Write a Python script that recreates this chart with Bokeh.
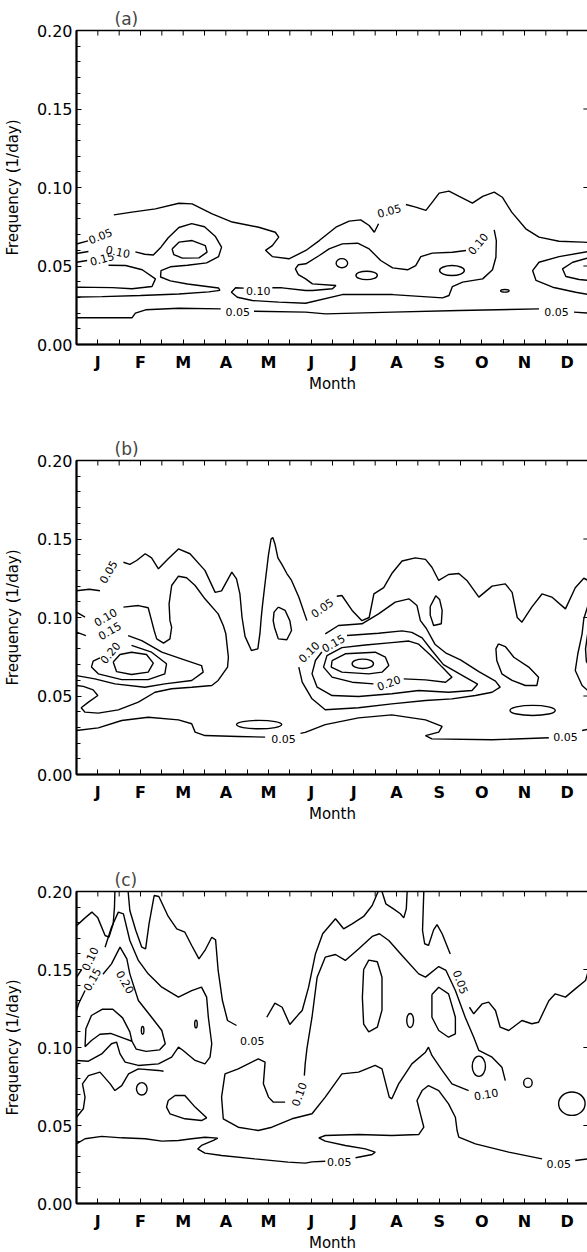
import math
from bokeh.plotting import figure
from bokeh.layouts import column
from bokeh.models import FixedTicker, Range1d, LinearAxis, ColumnDataSource
from bokeh.embed import file_html
from bokeh.resources import INLINE
from bokeh.core.properties import value

FONT = "DejaVu Sans"

MONTH_LABELS = ["J", "F", "M", "A", "M", "J", "J", "A", "S", "O", "N", "D"]
MONTH_CENTERS = [0.5, 1.5, 2.5, 3.5, 4.5, 5.5, 6.5, 7.5, 8.5, 9.5, 10.5, 11.5]
MONTH_EDGES = [0, 1, 2, 3, 4, 5, 6, 7, 8, 9, 10, 11, 12]
FREQ_TICKS = [0.0, 0.05, 0.10, 0.15, 0.20]
FREQ_LABELS = ["0.00", "0.05", "0.10", "0.15", "0.20"]
FREQ_MINOR = [0.01, 0.02, 0.03, 0.04, 0.06, 0.07, 0.08, 0.09, 0.11, 0.12, 0.13, 0.14,
              0.16, 0.17, 0.18, 0.19]

# ---------------- panel (a): contour lines (month, frequency) ----------------
A_TOP_1 = [(0.00, 0.064), (0.27, 0.066)]
A_TOP_2 = [(0.875, 0.0826), (1.30, 0.0843), (1.85, 0.0864), (2.40, 0.0900), (2.71, 0.0896),
           (3.18, 0.0832), (3.65, 0.0780), (4.27, 0.0747), (4.66, 0.0715), (4.74, 0.0684),
           (4.59, 0.0630), (4.43, 0.0600), (4.59, 0.0560), (4.98, 0.0546), (5.06, 0.0556),
           (5.375, 0.0599), (5.69, 0.0662), (6.08, 0.0747), (6.39, 0.0786), (6.66, 0.0794),
           (6.86, 0.0758), (6.98, 0.0715), (7.08, 0.0769)]
A_TOP_3 = [(7.72, 0.0892), (7.95, 0.0875), (8.19, 0.0854), (8.34, 0.0907), (8.50, 0.0964),
           (8.73, 0.0977), (8.97, 0.0943), (9.28, 0.0900), (9.52, 0.0943), (9.79, 0.0970),
           (9.98, 0.0938), (10.20, 0.0843), (10.53, 0.0737), (10.84, 0.0684), (11.31, 0.0658),
           (11.86, 0.0652), (12.0, 0.0650)]
A_BOT_1 = [(0.0, 0.0170), (1.30, 0.0170), (1.38, 0.0200), (1.62, 0.0221), (2.40, 0.0231),
           (3.38, 0.0227)]
A_BOT_2 = [(4.16, 0.0212), (5.37, 0.0206), (5.84, 0.0195), (7.40, 0.0206), (8.97, 0.0217),
           (10.84, 0.0227)]
A_BOT_3 = [(11.66, 0.0206), (12.0, 0.0200)]
A_010_STUB = [(0.0, 0.0580), (0.28, 0.0592)]
A_010_LEFT = [(1.38, 0.0590), (1.60, 0.0575), (1.80, 0.0570), (1.98, 0.0620), (2.15, 0.0680),
              (2.40, 0.0745), (2.70, 0.0770), (3.00, 0.0750), (3.25, 0.0690), (3.40, 0.0620),
              (3.33, 0.0560), (3.05, 0.0520), (2.60, 0.0505), (2.20, 0.0495), (1.98, 0.0470),
              (1.97, 0.0430), (2.20, 0.0405), (2.60, 0.0385), (3.10, 0.0368), (3.33, 0.0360),
              (3.36, 0.0345), (3.10, 0.0335), (2.40, 0.0322), (1.50, 0.0312), (0.60, 0.0305),
              (0.0, 0.0303)]
A_015_STUB = [(0.0, 0.0524), (0.25, 0.0535)]
A_015_LEFT = [(0.75, 0.0505), (1.15, 0.0503), (1.54, 0.0476), (1.85, 0.0418), (1.77, 0.0369),
              (1.30, 0.0355), (0.84, 0.0362), (0.40, 0.0364), (0.0, 0.0365)]
A_015_MAR = [(2.24, 0.0609), (2.40, 0.0652), (2.71, 0.0662), (3.02, 0.0630), (3.06, 0.0588),
             (2.87, 0.0552), (2.48, 0.0550), (2.28, 0.0573), (2.24, 0.0609)]
A_010_MID_1 = [(4.59, 0.0361), (4.82, 0.0361), (5.37, 0.0344), (5.53, 0.0344), (6.00, 0.0355),
               (6.08, 0.0376), (5.53, 0.0386), (5.37, 0.0418), (5.20, 0.0445), (5.13, 0.0482),
               (5.20, 0.0508), (5.375, 0.0514), (5.69, 0.0567), (5.92, 0.0609), (6.23, 0.0641),
               (6.59, 0.0645), (6.86, 0.0609), (7.13, 0.0535), (7.41, 0.0488), (7.76, 0.0476),
               (7.95, 0.0503), (8.07, 0.0560), (8.34, 0.0582), (8.81, 0.0588), (9.13, 0.0599)]
A_010_MID_2 = [(9.79, 0.0730), (9.84, 0.0662), (9.83, 0.0556), (9.75, 0.0476), (9.52, 0.0418),
               (9.05, 0.0397), (8.81, 0.0369), (8.73, 0.0312), (8.58, 0.0297), (7.41, 0.0318),
               (6.23, 0.0318), (5.37, 0.0263), (4.74, 0.0270), (4.12, 0.0280), (3.77, 0.0301),
               (3.63, 0.0333), (3.73, 0.0361), (3.92, 0.0359)]
A_DEC_010 = [(12.0, 0.0592), (11.31, 0.0560), (10.84, 0.0524), (10.69, 0.0471), (10.77, 0.0408),
             (11.16, 0.0365), (11.70, 0.0333), (12.0, 0.0318)]
A_DEC_015 = [(12.0, 0.0552), (11.63, 0.0524), (11.39, 0.0482), (11.47, 0.0433), (11.78, 0.0414),
             (12.0, 0.0408)]
A_LOOPS = [(6.22, 0.0518, 0.27, 0.0058), (6.80, 0.0440, 0.50, 0.0054),
           (8.80, 0.0471, 0.58, 0.0064), (10.04, 0.0342, 0.20, 0.0017)]
A_LABELS = [("0.05", 0.56, 0.0690, 22), ("0.10", 0.97, 0.0590, -12), ("0.15", 0.60, 0.0545, 15),
            ("0.05", 7.33, 0.0850, 15), ("0.10", 9.41, 0.0641, 50), ("0.10", 4.26, 0.0340, 0),
            ("0.05", 3.78, 0.0205, 0), ("0.05", 11.25, 0.0205, 0)]
A_LINES = [A_TOP_1, A_TOP_2, A_TOP_3, A_BOT_1, A_BOT_2, A_BOT_3, A_010_STUB, A_010_LEFT,
           A_015_STUB, A_015_LEFT, A_015_MAR, A_010_MID_1, A_010_MID_2, A_DEC_010, A_DEC_015]

# ---------------- panel (b) ----------------
B_TOP_1 = [(0.0, 0.117), (0.30, 0.118), (0.55, 0.117)]
B_TOP_2 = [(1.10, 0.1352), (1.25, 0.1338), (1.41, 0.1363), (1.61, 0.1406), (1.76, 0.1380),
           (1.92, 0.1310), (2.15, 0.1374), (2.39, 0.1437), (2.66, 0.1406), (3.01, 0.1300),
           (3.25, 0.1160), (3.40, 0.1170), (3.64, 0.1289), (3.75, 0.1246), (3.83, 0.1150),
           (3.88, 0.1000), (3.95, 0.0880), (4.10, 0.0790), (4.25, 0.0800), (4.30, 0.0900),
           (4.33, 0.1000), (4.36, 0.1080), (4.42, 0.1220), (4.50, 0.1400), (4.56, 0.1500),
           (4.60, 0.1510), (4.65, 0.1470), (4.72, 0.1380), (4.81, 0.1340), (4.93, 0.1280),
           (5.04, 0.1236), (5.21, 0.1130), (5.40, 0.0980)]
B_TOP_3 = [(6.10, 0.1135), (6.22, 0.1140), (6.46, 0.1045), (6.69, 0.0980), (6.86, 0.1000),
           (6.97, 0.1150), (7.20, 0.1190), (7.39, 0.1280), (7.63, 0.1360), (7.94, 0.1380),
           (8.18, 0.1370), (8.33, 0.1320), (8.49, 0.1236), (8.72, 0.1274), (8.96, 0.1280),
           (9.15, 0.1236), (9.43, 0.1130), (9.74, 0.1200), (10.05, 0.1214), (10.21, 0.1160),
           (10.33, 0.1000), (10.44, 0.0970), (10.67, 0.1066), (10.91, 0.1150), (11.14, 0.1130),
           (11.46, 0.1055), (11.69, 0.1190), (11.89, 0.1250), (12.0, 0.1235)]
B_010_STUB = [(0.0, 0.1034), (0.20, 0.1002)]
B_010_LEFT = [(1.10, 0.1066), (1.45, 0.1076), (1.68, 0.1062), (1.76, 0.0980), (1.82, 0.0917),
              (1.88, 0.0864), (2.04, 0.0837), (2.19, 0.0864), (2.23, 0.0938), (2.19, 0.0980),
              (2.17, 0.1087), (2.23, 0.1204), (2.39, 0.1263), (2.58, 0.1253), (2.78, 0.1204),
              (3.01, 0.1119), (3.32, 0.1023), (3.44, 0.0949), (3.50, 0.0896), (3.56, 0.0747),
              (3.54, 0.0684), (3.32, 0.0599), (3.17, 0.0567), (2.70, 0.0556), (2.23, 0.0546),
              (1.84, 0.0524), (1.45, 0.0461), (0.98, 0.0412), (0.51, 0.0391), (0.20, 0.0397),
              (0.11, 0.0425), (0.28, 0.0461), (0.50, 0.0503), (0.39, 0.0539), (0.16, 0.0561),
              (0.0, 0.0567)]
B_015_STUB = [(0.0, 0.0907), (0.22, 0.0885)]
B_015_LEFT = [(1.21, 0.0885), (1.53, 0.0853), (2.00, 0.0779), (2.46, 0.0737), (2.93, 0.0694),
              (2.97, 0.0652), (2.70, 0.0599), (2.07, 0.0577), (1.60, 0.0556), (0.90, 0.0577),
              (0.43, 0.0609), (0.0, 0.0630)]
B_020_LEFT = [(1.29, 0.0822), (1.76, 0.0779), (2.11, 0.0705), (2.07, 0.0641), (1.68, 0.0604),
              (1.06, 0.0604), (0.51, 0.0641), (0.35, 0.0684), (0.39, 0.0722), (0.55, 0.0743)]
B_025_LEFT = [(0.86, 0.0716), (1.02, 0.0764), (1.29, 0.0779), (1.64, 0.0764), (1.80, 0.0709),
              (1.68, 0.0652), (1.29, 0.0637), (0.94, 0.0655), (0.86, 0.0716)]
B_MAY = [(4.73, 0.1066), (4.89, 0.1045), (5.00, 0.0980), (5.04, 0.0917), (4.93, 0.0858),
         (4.73, 0.0864), (4.64, 0.0938), (4.61, 0.0980), (4.63, 0.1034), (4.73, 0.1066)]
B_AUG = [(8.29, 0.1070), (8.42, 0.1138), (8.51, 0.1115), (8.57, 0.1045), (8.55, 0.0960),
         (8.37, 0.0949), (8.29, 0.1015), (8.29, 0.1070)]
B_010_JUL = [(5.83, 0.0896), (6.14, 0.0949), (6.69, 0.0960), (7.08, 0.1023), (7.47, 0.1098),
             (7.79, 0.1119), (7.98, 0.1076), (8.06, 0.0980), (8.20, 0.0930), (8.40, 0.0830),
             (8.65, 0.0775), (9.00, 0.0730), (9.43, 0.0655), (9.82, 0.0595), (9.93, 0.0556),
             (9.74, 0.0524), (9.35, 0.0503), (8.80, 0.0482), (8.18, 0.0471), (7.39, 0.0450),
             (6.61, 0.0425), (5.83, 0.0412), (5.52, 0.0482), (5.29, 0.0588), (5.21, 0.0684)]
B_015_JUL = [(6.34, 0.0885), (7.08, 0.0900), (7.63, 0.0915), (7.86, 0.0905), (8.10, 0.0870),
             (8.33, 0.0790), (8.60, 0.0700), (9.05, 0.0630), (9.40, 0.0575), (9.27, 0.0535),
             (8.72, 0.0524), (8.02, 0.0535), (7.39, 0.0514), (6.61, 0.0497), (5.99, 0.0503),
             (5.64, 0.0556), (5.52, 0.0641), (5.60, 0.0726), (5.75, 0.0780)]
B_020_JUL = [(7.67, 0.0609), (8.18, 0.0603), (8.65, 0.0588), (8.80, 0.0620), (8.57, 0.0684),
             (8.30, 0.0760), (8.02, 0.0830), (7.79, 0.0850), (7.39, 0.0840), (6.77, 0.0825),
             (6.22, 0.0808), (5.87, 0.0757), (5.79, 0.0684), (5.99, 0.0620), (6.46, 0.0588),
             (6.96, 0.0577)]
B_025_JUL = [(5.99, 0.0726), (6.30, 0.0769), (7.00, 0.0779), (7.24, 0.0747), (7.32, 0.0694),
             (7.16, 0.0652), (6.85, 0.0641), (6.22, 0.0652), (5.97, 0.0684), (5.99, 0.0726)]
B_SEP = [(9.89, 0.0832), (10.05, 0.0815), (10.25, 0.0747), (10.60, 0.0684), (10.83, 0.0620),
         (10.79, 0.0567), (10.52, 0.0567), (10.21, 0.0599), (9.97, 0.0641), (9.85, 0.0726),
         (9.83, 0.0800), (9.89, 0.0832)]
B_DEC_010 = [(12.0, 0.1087), (11.89, 0.0992), (11.85, 0.0896), (11.75, 0.0769), (11.69, 0.0662),
             (11.85, 0.0567), (12.0, 0.0530)]
B_DEC_015 = [(12.0, 0.0934), (11.93, 0.0800), (11.95, 0.0720), (12.0, 0.0700)]
B_BOT_1 = [(0.0, 0.0280), (0.51, 0.0297), (1.06, 0.0344), (1.68, 0.0365), (2.39, 0.0348),
           (2.70, 0.0323), (2.78, 0.0270), (3.01, 0.0248), (3.79, 0.0242), (4.42, 0.0238)]
B_BOT_2 = [(5.25, 0.0262), (5.36, 0.0268), (5.83, 0.0318), (6.61, 0.0361), (7.39, 0.0380),
           (8.18, 0.0348), (8.57, 0.0306), (8.49, 0.0270), (8.18, 0.0248), (8.33, 0.0227),
           (9.74, 0.0221), (11.07, 0.0234)]
B_BOT_3 = [(11.85, 0.0280), (12.0, 0.0289)]
B_LOOPS = [(6.71, 0.0705, 0.50, 0.0060), (10.69, 0.0408, 1.06, 0.0064),
           (4.28, 0.0318, 1.06, 0.0054)]
B_LABELS = [("0.05", 0.75, 0.1290, 60), ("0.05", 5.76, 0.1060, 35), ("0.10", 0.68, 0.1000, 30),
            ("0.15", 0.78, 0.0915, 30), ("0.20", 0.79, 0.0775, 50), ("0.10", 5.45, 0.0780, 45),
            ("0.15", 6.02, 0.0835, 30), ("0.20", 7.32, 0.0582, 20), ("0.05", 4.85, 0.0227, 0),
            ("0.05", 11.46, 0.0240, 0)]
B_LINES = [B_TOP_1, B_TOP_2, B_TOP_3, B_010_STUB, B_010_LEFT, B_015_STUB, B_015_LEFT, B_020_LEFT,
           B_025_LEFT, B_MAY, B_AUG, B_010_JUL, B_015_JUL, B_020_JUL, B_025_JUL, B_SEP,
           B_DEC_010, B_DEC_015, B_BOT_1, B_BOT_2, B_BOT_3]

# ---------------- panel (c) ----------------
C_005_A = [(0.0, 0.1780), (0.20, 0.1831), (0.36, 0.1868), (0.50, 0.1831), (0.67, 0.1718),
           (0.76, 0.1707), (0.86, 0.1793), (0.89, 0.1900), (0.90, 0.2000)]
C_005_B = [(1.21, 0.2000), (1.25, 0.1878), (1.39, 0.1750), (1.53, 0.1643), (1.62, 0.1632),
           (1.70, 0.1793), (1.82, 0.1974), (1.93, 0.1968), (2.15, 0.1840), (2.35, 0.1761),
           (2.54, 0.1739), (2.70, 0.1654), (2.87, 0.1568), (3.01, 0.1622), (3.17, 0.1707),
           (3.26, 0.1690), (3.32, 0.1494), (3.42, 0.1301), (3.54, 0.1173), (3.75, 0.1141)]
C_005_C = [(4.46, 0.1194), (4.65, 0.1284), (4.82, 0.1258), (5.00, 0.1147), (5.20, 0.1211),
           (5.29, 0.1237), (5.44, 0.1387), (5.60, 0.1600), (5.77, 0.1729), (6.07, 0.1825),
           (6.26, 0.1761), (6.46, 0.1793), (6.73, 0.1840), (6.93, 0.1910), (7.07, 0.2000)]
C_005_D = [(7.16, 0.2000), (7.25, 0.1921), (7.43, 0.1889), (7.59, 0.1857), (7.67, 0.1831),
           (7.73, 0.1889), (7.75, 0.2000)]
C_005_E = [(8.14, 0.2000), (8.11, 0.1750), (8.16, 0.1665), (8.25, 0.1654), (8.37, 0.1754),
           (8.45, 0.1788), (8.57, 0.1729), (8.76, 0.1600)]
C_005_F = [(9.21, 0.1258), (9.31, 0.1216), (9.51, 0.1280), (9.66, 0.1291), (9.82, 0.1237),
           (9.93, 0.1130), (10.13, 0.1109), (10.44, 0.1173), (10.67, 0.1152), (10.83, 0.1162),
           (11.07, 0.1300), (11.22, 0.1344), (11.46, 0.1323), (11.69, 0.1376), (11.93, 0.1429),
           (12.0, 0.1494)]
C_BOT_1 = [(0.0, 0.0382), (0.20, 0.0415), (0.59, 0.0430), (1.06, 0.0421), (1.61, 0.0415),
           (2.00, 0.0400), (2.39, 0.0404), (2.70, 0.0415), (3.01, 0.0425), (3.31, 0.0419),
           (3.21, 0.0404), (2.93, 0.0372), (2.84, 0.0350), (3.01, 0.0323), (3.40, 0.0308),
           (4.18, 0.0286), (4.96, 0.0265), (5.36, 0.0259), (5.52, 0.0267), (5.83, 0.0271)]
C_BOT_2 = [(6.54, 0.0293), (6.93, 0.0314), (7.00, 0.0329), (6.77, 0.0350), (6.30, 0.0372),
           (5.83, 0.0400), (5.68, 0.0421), (5.83, 0.0436), (6.61, 0.0442), (7.39, 0.0436),
           (8.02, 0.0442), (8.14, 0.0489), (8.06, 0.0575), (7.98, 0.0660), (8.10, 0.0724),
           (8.25, 0.0756), (8.49, 0.0724), (8.72, 0.0639), (8.88, 0.0553), (8.92, 0.0468),
           (8.96, 0.0425), (9.35, 0.0382), (10.13, 0.0329), (10.91, 0.0286)]
C_BOT_3 = [(11.69, 0.0276), (12.0, 0.0286)]
C_010_STUB = [(0.0, 0.1450), (0.12, 0.1500)]
C_010_JAN = [(0.67, 0.1643), (0.82, 0.1771), (0.98, 0.1868), (1.10, 0.1857), (1.25, 0.1686),
             (1.45, 0.1558), (1.68, 0.1472), (2.00, 0.1387), (2.39, 0.1323), (2.70, 0.1365),
             (2.93, 0.1387), (3.05, 0.1323), (3.09, 0.1194), (3.17, 0.1024), (3.13, 0.0938),
             (3.01, 0.0895), (2.78, 0.0917), (2.50, 0.0981), (2.39, 0.1002), (2.23, 0.0938),
             (1.92, 0.0895), (1.45, 0.0885), (1.14, 0.0906), (1.02, 0.0959), (0.94, 0.1034),
             (0.82, 0.1024), (0.59, 0.0959), (0.28, 0.0912), (0.0, 0.0917)]
C_015_STUB = [(0.0, 0.1237), (0.05, 0.1280), (0.20, 0.1365)]
C_015_JAN = [(0.62, 0.1470), (0.82, 0.1536), (1.02, 0.1643), (1.18, 0.1568), (1.25, 0.1472),
             (1.45, 0.1301), (1.76, 0.1194), (2.00, 0.1109), (2.08, 0.1024), (1.95, 0.0985),
             (1.63, 0.0975), (1.40, 0.0990), (1.30, 0.1040)]
C_020_JAN = [(0.20, 0.1005), (0.22, 0.1120), (0.35, 0.1205), (0.60, 0.1245), (0.85, 0.1245),
             (1.08, 0.1190), (1.25, 0.1100), (1.30, 0.1040), (1.10, 0.1060), (0.80, 0.1090),
             (0.55, 0.1085), (0.35, 0.1045), (0.20, 0.1005)]
C_010_LOW = [(0.0, 0.0553), (0.16, 0.0607), (0.20, 0.0682), (0.14, 0.0767), (0.28, 0.0820),
             (0.55, 0.0842), (0.79, 0.0767), (0.90, 0.0724), (1.06, 0.0756), (1.22, 0.0831),
             (1.45, 0.0863), (1.92, 0.0853), (2.04, 0.0848)]
C_MAR = [(2.15, 0.0660), (2.31, 0.0692), (2.54, 0.0692), (2.78, 0.0618), (3.05, 0.0549),
         (2.93, 0.0532), (2.54, 0.0543), (2.19, 0.0575), (2.11, 0.0618), (2.15, 0.0660)]
C_010_MAIN_1 = [(10.05, 0.0788), (9.97, 0.0874), (9.74, 0.0938), (9.43, 0.0981), (9.31, 0.1066),
                (9.11, 0.1194), (8.88, 0.1365), (8.66, 0.1494), (8.49, 0.1519), (8.18, 0.1451),
                (8.02, 0.1472), (7.63, 0.1590), (7.32, 0.1686), (7.10, 0.1729), (6.93, 0.1712),
                (6.61, 0.1632), (6.30, 0.1558), (6.07, 0.1596), (5.83, 0.1579), (5.64, 0.1451),
                (5.52, 0.1194), (5.44, 0.1060), (5.40, 0.0991), (5.36, 0.0895), (5.34, 0.0820)]
C_010_MAIN_2 = [(4.89, 0.0650), (4.61, 0.0650), (4.50, 0.0682), (4.38, 0.0767), (4.42, 0.0906),
                (4.26, 0.0927), (3.79, 0.0863), (3.48, 0.0831), (3.40, 0.0682), (3.44, 0.0543),
                (3.79, 0.0489), (4.26, 0.0468), (4.58, 0.0489), (5.05, 0.0543), (5.52, 0.0575),
                (5.83, 0.0682), (6.22, 0.0831), (6.61, 0.0842), (7.00, 0.0885), (7.16, 0.0863),
                (7.33, 0.0682), (7.39, 0.0671), (7.55, 0.0767), (7.86, 0.0895), (8.18, 0.0970),
                (8.25, 0.1002), (8.33, 0.0949), (8.57, 0.0853), (8.80, 0.0767), (9.19, 0.0724)]
C_JUL_L2 = [(6.73, 0.1500), (6.85, 0.1560), (7.05, 0.1550), (7.16, 0.1450), (7.16, 0.1240),
            (7.05, 0.1130), (6.85, 0.1100), (6.73, 0.1150), (6.70, 0.1320), (6.73, 0.1500)]
C_AUG_L5 = [(8.33, 0.1340), (8.49, 0.1386), (8.72, 0.1344), (8.88, 0.1194), (8.88, 0.1088),
            (8.72, 0.1066), (8.49, 0.1109), (8.33, 0.1194), (8.33, 0.1340)]
C_LOOPS = [(7.82, 0.1173, 0.16, 0.0090), (9.43, 0.0880, 0.31, 0.0130),
           (10.58, 0.0774, 0.20, 0.0060), (11.61, 0.0640, 0.62, 0.0150),
           (1.55, 0.1110, 0.06, 0.0050), (2.80, 0.1150, 0.06, 0.0050),
           (1.53, 0.0735, 0.25, 0.0080)]
C_LABELS = [("0.10", 0.32, 0.1568, 65), ("0.15", 0.37, 0.1436, 60), ("0.20", 1.14, 0.1419, -60),
            ("0.05", 4.12, 0.1040, 0), ("0.05", 9.00, 0.1419, -70), ("0.10", 5.22, 0.0700, 70),
            ("0.10", 9.60, 0.0699, 10), ("0.05", 6.16, 0.0268, 0), ("0.05", 11.30, 0.0254, 0)]
C_LINES = [C_005_A, C_005_B, C_005_C, C_005_D, C_005_E, C_005_F, C_BOT_1, C_BOT_2, C_BOT_3,
           C_010_STUB, C_010_JAN, C_015_STUB, C_015_JAN, C_020_JAN, C_010_LOW, C_MAR,
           C_010_MAIN_1, C_010_MAIN_2, C_JUL_L2, C_AUG_L5]


def make_panel(tag, lines, labels, loops, frame_h, top, bottom):
    p = figure(frame_width=512, frame_height=frame_h, x_range=Range1d(0, 12),
               y_range=Range1d(0, 0.2), output_backend="svg", toolbar_location=None,
               min_border_left=72, min_border_right=2, min_border_top=top,
               min_border_bottom=bottom, x_axis_location=None, y_axis_location=None)
    p.grid.visible = False
    p.outline_line_color = "black"
    p.outline_line_width = 1.5
    p.background_fill_color = "white"
    p.border_fill_color = "white"

    xt = FixedTicker(ticks=MONTH_CENTERS, minor_ticks=MONTH_EDGES)
    xax = LinearAxis(ticker=xt, axis_label="Month")
    xax.major_label_overrides = {c: l for c, l in zip(MONTH_CENTERS, MONTH_LABELS)}
    yax = LinearAxis(ticker=FixedTicker(ticks=FREQ_TICKS, minor_ticks=FREQ_MINOR),
                     axis_label="Frequency (1/day)")
    yax.major_label_overrides = {t: l for t, l in zip(FREQ_TICKS, FREQ_LABELS)}
    for ax in (xax, yax):
        ax.axis_line_color = "black"
        ax.axis_line_width = 2
        ax.major_tick_in = 5
        ax.major_tick_out = 0
        ax.minor_tick_in = 4
        ax.minor_tick_out = 0
        ax.major_tick_line_color = "black"
        ax.minor_tick_line_color = "black"
        ax.major_label_text_font = FONT
        ax.major_label_text_color = "black"
        ax.axis_label_text_font = FONT
        ax.axis_label_text_font_style = "normal"
        ax.axis_label_text_color = "black"
    xax.minor_tick_in = 5
    xax.major_label_text_font_size = "16px"
    xax.major_label_text_font_style = "bold"
    xax.major_label_standoff = 8
    xax.axis_label_text_font_size = "15px"
    xax.axis_label_standoff = 0
    yax.major_label_text_font_size = "16px"
    yax.major_label_standoff = 4
    yax.axis_label_text_font_size = "15px"
    yax.axis_label_standoff = 12
    p.add_layout(xax, "below")
    p.add_layout(yax, "left")

    # inward ticks on the top and right frame edges, at the axis tick positions
    top_x = MONTH_EDGES + MONTH_CENTERS
    p.segment(x0=top_x, y0=[0.2] * len(top_x), x1=top_x, y1=[0.2 - 0.0032] * len(top_x),
              line_color="black", line_width=1)
    p.segment(x0=[12] * len(FREQ_TICKS), y0=FREQ_TICKS, x1=[12 - 0.12] * len(FREQ_TICKS),
              y1=FREQ_TICKS, line_color="black", line_width=1)

    p.title.text = tag
    p.title.align = "left"
    p.title.offset = 38
    p.title.standoff = 4
    p.title.text_font = FONT
    p.title.text_font_size = "17px"
    p.title.text_font_style = "normal"

    xs = [[q[0] for q in ln] for ln in lines]
    ys = [[q[1] for q in ln] for ln in lines]
    p.multi_line(xs=xs, ys=ys, line_color="black", line_width=1.4)

    p.ellipse(x=[e[0] for e in loops], y=[e[1] for e in loops],
              width=[e[2] for e in loops], height=[e[3] for e in loops],
              fill_color=None, line_color="black", line_width=1.4)

    src = ColumnDataSource(dict(t=[l[0] for l in labels], x=[l[1] for l in labels],
                                y=[l[2] for l in labels],
                                a=[math.radians(l[3]) for l in labels]))
    p.text(x="x", y="y", text="t", angle="a", source=src, text_font=value(FONT),
           text_font_size="11px", text_align="center", text_baseline="middle",
           text_color="black")
    return p


pa = make_panel("(a)", A_LINES, A_LABELS, A_LOOPS, 314, 30, 86)
pb = make_panel("(b)", B_LINES, B_LABELS, B_LOOPS, 314, 30, 86)
pc = make_panel("(c)", C_LINES, C_LABELS, C_LOOPS, 312, 31, 46)
layout = column(pa, pb, pc, spacing=0)
open("out.html", "w").write(file_html(layout, INLINE))
